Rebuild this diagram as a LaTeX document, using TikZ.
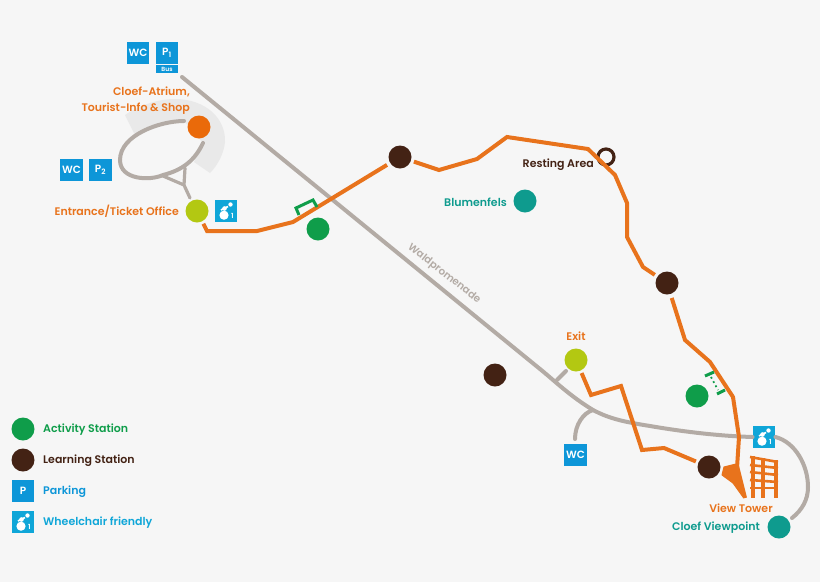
\documentclass[tikz,border=0pt]{standalone}
\usepackage{fontspec}
\setmainfont{Poppins}[BoldFont={Poppins SemiBold}]
\usetikzlibrary{calc}
\definecolor{bgc}{HTML}{F6F6F6}
\definecolor{orangec}{HTML}{E8731C}
\definecolor{atriumc}{HTML}{EA6A0A}
\definecolor{roadc}{HTML}{B3ABA5}
\definecolor{brownc}{HTML}{432214}
\definecolor{greenc}{HTML}{0F9D4A}
\definecolor{tealc}{HTML}{0E9B8E}
\definecolor{limec}{HTML}{B3C812}
\definecolor{bluec}{HTML}{0D96D8}
\definecolor{cyanc}{HTML}{0FA6D8}
\definecolor{wedgec}{HTML}{E9E9E9}
\tikzset{
  dot/.style={circle,inner sep=0pt,minimum size=23pt,fill=#1,draw=none},
  bluebox/.style={rectangle,fill=#1,inner sep=0pt,minimum size=22.5pt,text=white,font=\fontsize{10.5}{11}\selectfont\bfseries},
  road/.style={draw=roadc,line width=4pt,line cap=round},
  routeline/.style={draw=orangec,line width=4pt,line join=miter},
  lab/.style={font=\fontsize{11}{16}\selectfont\bfseries,inner sep=0pt,text=#1},
  bracket/.style={draw=greenc,line width=3pt}
}
\newcommand{\wheelicon}[3]{%
  \node[bluebox=cyanc] (#1) at (#2,#3) {};
  \fill[white] ($(#1)+(-2,4.2)$) circle (4.6pt);
  \fill[white] ($(#1)+(-1.5,-2.5)$) circle (2.3pt);
  \fill[white] ($(#1)+(4.5,-6.5)$) circle (2.2pt);
  \draw[white,line width=1.6pt] ($(#1)+(-5,-1)$) -- ($(#1)+(-1,-3)$) -- ($(#1)+(2,-4.5)$);
  \node[inner sep=0pt,text=white,font=\fontsize{7}{7}\selectfont\bfseries] at ($(#1)+(6.5,5)$) {1};
}
\begin{document}
\begin{tikzpicture}[x=1pt,y=-1pt]
\useasboundingbox (0,0) rectangle (820,582);
\fill[bgc] (0,0) rectangle (820,582);

% grey wedge behind the atrium
\fill[wedgec] (125,115) .. controls (140,105) and (158,99) .. (175,99)
  .. controls (205,99) and (226,118) .. (225,142)
  .. controls (224,153) and (218,165) .. (210,173)
  -- (194,162) -- (203,143) -- (184,121)
  .. controls (165,121) and (147,127) .. (135,135) -- cycle;

% stations
\node[dot=atriumc] (atrium) at (199,127) {};
\node[dot=limec] (entrance) at (197,211) {};
\node[dot=greenc] (act1) at (318,229) {};
\node[dot=brownc] (learn1) at (400,157) {};
\node[dot=tealc] (blumen) at (525,201) {};
\node[dot=brownc] (learn2) at (667,283) {};
\node[dot=brownc] (learn3) at (495,375) {};
\node[dot=limec] (exit) at (576,360) {};
\node[dot=greenc] (act2) at (697,396) {};
\node[dot=brownc] (learn4) at (709,467) {};
\node[dot=tealc] (viewpoint) at (779,527) {};
\node[circle,draw=brownc,line width=3.2pt,minimum size=16pt,inner sep=0pt] (rest) at (606,157) {};

% blue boxes
\node[bluebox=bluec] (wc1) at (138,53) {WC};
\node[bluebox=bluec] (p1) at (167,53) {P\textsubscript{1}};
\node[rectangle,fill=bluec,minimum width=22.5pt,minimum height=8pt,inner sep=0pt,text=white,font=\fontsize{6}{6}\selectfont\bfseries] (bus) at (167,69) {Bus};
\node[bluebox=bluec] (wc2) at (71.5,170) {WC};
\node[bluebox=bluec] (p2) at (100.5,170) {P\textsubscript{2}};
\node[bluebox=bluec] (wc3) at (575.5,455) {WC};
\wheelicon{wh1}{226}{211}
\wheelicon{wh2}{764}{437}

% roads
\coordinate (roadstart) at (182,77);
\coordinate (wcjoin) at (593,410);
\coordinate (exitjoin) at (557,380);
\coordinate (loopstart) at (184,121);
\coordinate (loopend) at (203,143);
\coordinate (fork) at (184,185);
\draw[road] (roadstart) -- (540,369) .. controls (556,382) and (570,396) .. (593,410)
  .. controls (610,419) and (625,422) .. (650,426) .. controls (685,432) and (720,436) .. (wh2.west);
\draw[road] (wh2.east) .. controls (795,442) and (808,465) .. (808,487)
  .. controls (808,500) and (802,510) .. (792,518);
\draw[road] (exit) ++(-10,11) -- (exitjoin);
\draw[road] (wcjoin) .. controls (583,413) and (575,425) .. (575,439);
\draw[road] (loopstart) .. controls (160,121) and (120,135) .. (120,160)
  .. controls (120,180) and (150,181) .. (163,175)
  .. controls (183,170) and (195,160) .. (loopend);
\draw[road,line width=3.2pt] (163,176) -- (fork) (185,168) -- (fork) -- (190,198);

% road label
\node[lab=roadc,rotate=-38,font=\fontsize{10.3}{12}\selectfont\bfseries] (wald) at (444,274) {Waldpromenade};

% orange route
\draw[routeline,shorten <=2.5pt,shorten >=3.5pt] (entrance) -- (207,231) -- (257,231) -- (293,222) -- (learn1);
\draw[routeline,shorten <=3pt,shorten >=3pt] (learn1) -- (439,170) -- (477,159) -- (507,137) -- (588,149) -- (615,175) -- (627,203) -- (627,237) -- (643,267) -- (learn2);
\draw[routeline,shorten <=4pt] (learn2) -- (685,340) -- (710,362) -- (733,397) -- (739,437) -- (737,468);
\draw[routeline,shorten <=2.5pt,shorten >=2.5pt] (exit) -- (591,395) -- (621,386) -- (642,450) -- (664,448) -- (learn4);
\fill[orangec,draw=orangec,line width=1pt,line join=round] (736,464) -- (724,467) -- (722,475) -- (733,483) -- (743,497) -- cycle;
\draw[routeline] (737,466) -- (745,498);

% tower
\foreach \yl/\yr in {457/462,465/468,472/475,480/482,488/488}
  \draw[orangec,line width=2.6pt] (750,\yl) -- (778,\yr);
\foreach \xx/\yt in {753/456,763/458,776/460}
  \draw[orangec,line width=3.4pt] (\xx,\yt) -- (\xx,498);

% green brackets
\draw[bracket] (299,215) -- (296,208) -- (313,200) -- (317,207);
\draw[bracket] (705,376) -- (714,372);
\draw[bracket] (717,394) -- (725,390);
\draw[greenc,line width=1.8pt,dash pattern=on 1.8pt off 3pt] (711,377) -- (718,390);

% labels
\node[lab=orangec,anchor=east,align=right] (atriumlab) at (190,100.5) {Cloef-Atrium,\\Tourist-Info \& Shop};
\node[lab=orangec,anchor=east] (entlab) at (179,211) {Entrance/Ticket Office};
\node[lab=tealc,anchor=east] (blumlab) at (507,202) {Blumenfels};
\node[lab=brownc,anchor=east] (restlab) at (594,165) {Resting Area};
\node[lab=orangec] (exitlab) at (576,336) {Exit};
\node[lab=orangec] (towerlab) at (741,508) {View Tower};
\node[lab=tealc] (viewlab) at (716,527.5) {Cloef Viewpoint};

% legend
\node[dot=greenc] (legact) at (23,429) {};
\node[dot=brownc] (leglearn) at (23,460) {};
\node[bluebox=bluec] (legp) at (23,491) {P};
\wheelicon{legw}{23}{522}
\node[lab=greenc,anchor=west] (t1) at (43,430) {Activity Station};
\node[lab=brownc,anchor=west] (t2) at (43,461) {Learning Station};
\node[lab=bluec,anchor=west] (t3) at (43,492) {Parking};
\node[lab=cyanc,anchor=west] (t4) at (43,523) {Wheelchair friendly};
\end{tikzpicture}
\end{document}
